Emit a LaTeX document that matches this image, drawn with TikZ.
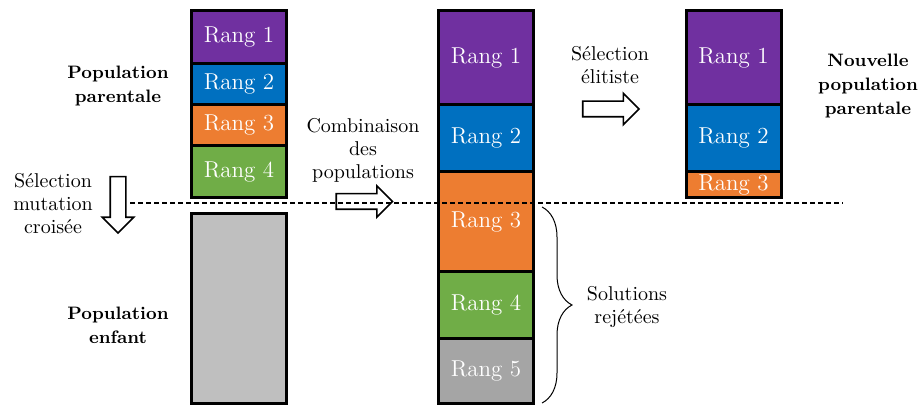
\documentclass[tikz,border=0pt]{standalone}
\usepackage{tikz}
\usetikzlibrary{positioning,shapes.arrows,decorations.pathreplacing}
\definecolor{rgviolet}{RGB}{112,48,160}
\definecolor{rgbleu}{RGB}{0,112,192}
\definecolor{rgorange}{RGB}{237,125,49}
\definecolor{rgvert}{RGB}{112,173,71}
\definecolor{rggris}{RGB}{165,165,165}
\definecolor{rgenfant}{RGB}{191,191,191}
\tikzset{
  rang/.style={rectangle, draw, line width=1.5pt, text=white, align=center, outer sep=0pt,
               font=\fontsize{11.5}{13}\selectfont, minimum width=47.5pt, inner sep=0pt},
  lbl/.style={align=center, font=\fontsize{10}{11.5}\selectfont, inner sep=0pt},
  titre/.style={align=center, font=\fontsize{9}{12}\selectfont\bfseries, inner sep=0pt},
  fleche/.style={single arrow, draw, line width=0.8pt, fill=white, inner xsep=11.75pt,
                 inner ysep=3.5pt, single arrow head extend=4pt},
  sep/.style={dash pattern=on 2.5pt off 1.5pt, line width=0.6pt},
  accol/.style={decorate, decoration={brace, amplitude=15pt}, line width=0.5pt},
}

\begin{document}
\begin{tikzpicture}[x=0.5pt, y=-0.5pt]
\useasboundingbox (0,0) rectangle (919,405);

% population parentale
\node[rang, fill=rgviolet, minimum height=26.25pt, anchor=north] (p1) at (239,11) {Rang 1};
\node[rang, fill=rgbleu, minimum height=20.75pt, below=0pt of p1] (p2) {Rang 2};
\node[rang, fill=rgorange, minimum height=20.5pt, below=0pt of p2] (p3) {Rang 3};
\node[rang, fill=rgvert, minimum height=26pt, below=0pt of p3] (p4) {Rang 4};
\node[rang, fill=rgenfant, minimum height=94.5pt, anchor=north] (enf) at (239,214) {};

% populations combinees
\node[rang, fill=rgviolet, minimum height=47pt, anchor=north] (c1) at (486,11) {Rang 1};
\node[rang, fill=rgbleu, minimum height=33.5pt, below=0pt of c1] (c2) {Rang 2};
\node[rang, fill=rgorange, minimum height=49.75pt, below=0pt of c2] (c3) {Rang 3};
\node[rang, fill=rgvert, minimum height=33.5pt, below=0pt of c3] (c4) {Rang 4};
\node[rang, fill=rggris, minimum height=32.25pt, below=0pt of c4] (c5) {Rang 5};

% nouvelle population
\node[rang, fill=rgviolet, minimum height=47pt, anchor=north] (n1) at (733.5,11) {Rang 1};
\node[rang, fill=rgbleu, minimum height=33.5pt, below=0pt of n1] (n2) {Rang 2};
\node[rang, fill=rgorange, minimum height=13pt, below=0pt of n2] (n3) {Rang 3};

% textes
\node[titre] (tpar) at (118,86) {Population\\parentale};
\node[titre] (tenf) at (118,325) {Population\\enfant};
\node[titre] (tnouv) at (868,86) {Nouvelle\\population\\parentale};
\node[lbl] (tsel) at (53,204) {Sélection\\mutation\\croisée};
\node[lbl] (tcomb) at (363,150) {Combinaison\\des\\populations};
\node[lbl] (telit) at (610,65) {Sélection\\élitiste};

% fleches
\node[fleche, rotate=-90] (fsel) at (118,201) {};
\node[fleche] (fcomb) at (360.5,201.5) {};
\node[fleche] (felit) at (607,109) {};

% solutions rejetees
\coordinate (brh) at (542,207);
\coordinate (brb) at (542,403);
\draw[accol] (brh) -- (brb);
\node[lbl] (trej) at (627,307) {Solutions\\rejétées};

% separation
\coordinate (sepg) at (130,203);
\coordinate (sepd) at (843,203);
\draw[sep] (sepg) -- (sepd);
\end{tikzpicture}
\end{document}
